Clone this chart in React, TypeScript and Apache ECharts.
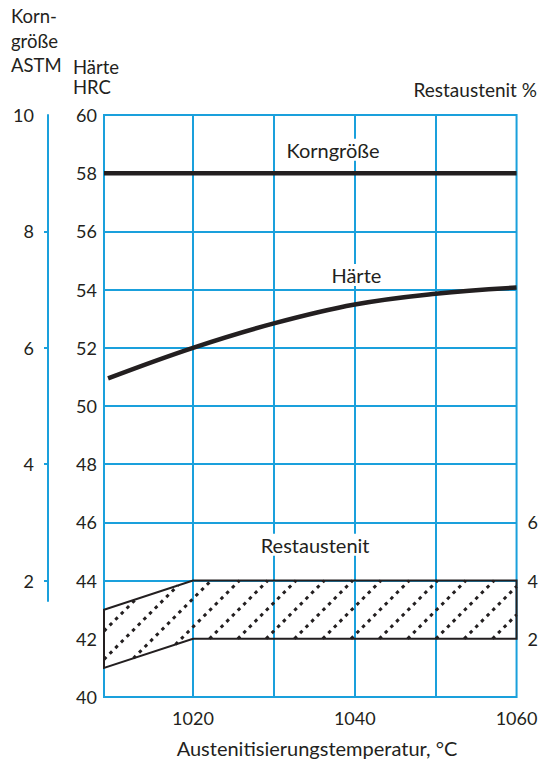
import { useEffect, useRef } from 'react';
import * as echarts from 'echarts';

const FONT = 'Lato, "Open Sans", sans-serif';
const INK = '#231f20';
const BLUE = '#1aa0dc';

// x axis: Austenitisierungstemperatur (°C)
const tempMin = 1009;
const tempMax = 1060;
const tempTickLabels = [1020, 1040, 1060];
const tempGridLines = [1020, 1030, 1040, 1050];

// left axis: Härte HRC
const hrcMin = 40;
const hrcMax = 60;
const hrcStep = 2;
const hrcGridLines = [44, 46, 48, 50, 52, 54, 56];

// far-left axis: Korngröße ASTM
const astmMin = 1.65;
const astmMax = 10;
const astmTicks = [2, 4, 6, 8];
const astmLabels = [2, 4, 6, 8, 10];

// right axis: Restaustenit %
const restPctMin = 0;
const restPctMax = 20;
const restPctLabels = [2, 4, 6];

// series
const korngroesseTemp = [1009, 1060];
const korngroesseHRC = [58, 58];
const haerteTemp = [1009.5, 1020, 1030, 1040, 1050, 1060];
const haerteHRC = [50.95, 52.0, 52.84, 53.49, 53.86, 54.07];
const restTopTemp = [1009, 1020, 1060];
const restTopHRC = [43, 44, 44];
const restBottomTemp = [1009, 1020, 1060];
const restBottomHRC = [41, 42, 42];

// in-chart annotations
const annotationText = ['Korngröße', 'Härte', 'Restaustenit'];
const annotationTemp = [1037.3, 1040.2, 1035.1];
const annotationHRC = [58.81, 54.5, 45.23];

const txt = { fontFamily: FONT, fontSize: 18, color: INK };

export default function App() {
  const ref = useRef<HTMLDivElement>(null);
  useEffect(() => {
    if (!ref.current) return;
    const chart = echarts.init(ref.current, null, { renderer: 'svg' });

    const hatchRender = (params: any, api: any) => {
      const top = restTopTemp.map((t, i) => api.coord([t, restTopHRC[i]]));
      const bot = restBottomTemp.map((t, i) => api.coord([t, restBottomHRC[i]]));
      const outline = top.concat(bot.slice().reverse());
      const xl = top[0][0];
      const xr = top[top.length - 1][0];
      const cross = (pts: number[][], C: number) => {
        for (let i = 0; i < pts.length - 1; i++) {
          const a = pts[i];
          const b = pts[i + 1];
          const fa = a[0] + a[1] - C;
          const fb = b[0] + b[1] - C;
          if ((fa <= 0 && fb >= 0) || (fa >= 0 && fb <= 0)) {
            const t = fa === fb ? 0 : fa / (fa - fb);
            return [a[0] + t * (b[0] - a[0]), a[1] + t * (b[1] - a[1])];
          }
        }
        return null;
      };
      const cMin = xl + top[0][1];
      const cMax = xr + bot[bot.length - 1][1];
      const step = 28.3;
      const anchor = bot[1][0] + bot[1][1] + 16.5;
      let c = anchor - Math.ceil((anchor - cMin) / step) * step;
      const lines: any[] = [];
      for (; c < cMax; c += step) {
        if (c <= cMin) continue;
        const p1 = c < xl + bot[0][1] ? [xl, c - xl] : cross(bot, c);
        const p2 = c > xr + top[top.length - 1][1] ? [xr, c - xr] : cross(top, c);
        if (!p1 || !p2) continue;
        lines.push({
          type: 'line',
          shape: { x1: p1[0], y1: p1[1], x2: p2[0], y2: p2[1] },
          style: { stroke: INK, lineWidth: 3, lineDash: [3.4, 4.6], fill: null },
        });
      }
      return {
        type: 'group',
        children: [
          ...lines,
          {
            type: 'polygon',
            shape: { points: outline },
            style: { fill: 'none', stroke: INK, lineWidth: 2 },
          },
        ],
      };
    };

    chart.setOption({
      animation: false,
      grid: [
        {
          left: 104,
          right: 22,
          top: 115,
          bottom: 66,
          show: true,
          borderColor: BLUE,
          borderWidth: 2,
          backgroundColor: 'transparent',
        },
        { left: 48, width: 1, top: 115, bottom: 162 },
      ],
      xAxis: [
        {
          type: 'value',
          gridIndex: 0,
          min: tempMin,
          max: tempMax,
          axisLine: { show: false },
          axisTick: { show: false },
          splitLine: { show: false },
          axisLabel: {
            ...txt,
            margin: 12,
            customValues: tempTickLabels,
            formatter: (v: number) => String(v),
          },
        },
        { type: 'value', gridIndex: 1, show: false, min: 0, max: 1 },
      ],
      yAxis: [
        {
          type: 'value',
          gridIndex: 0,
          position: 'left',
          min: hrcMin,
          max: hrcMax,
          interval: hrcStep,
          axisLine: { show: false },
          axisTick: { show: false },
          splitLine: { show: false },
          axisLabel: { ...txt, margin: 7 },
        },
        {
          type: 'value',
          gridIndex: 0,
          position: 'right',
          min: restPctMin,
          max: restPctMax,
          interval: 2,
          axisLine: { show: false },
          axisTick: { show: false },
          splitLine: { show: false },
          axisLabel: {
            ...txt,
            margin: 11,
            formatter: (v: number) => (restPctLabels.includes(v) ? String(v) : ''),
          },
        },
        {
          type: 'value',
          gridIndex: 1,
          position: 'left',
          min: astmMin,
          max: astmMax,
          axisLine: { show: true, lineStyle: { color: BLUE, width: 2 } },
          axisTick: {
            show: true,
            length: 4,
            customValues: astmTicks,
            lineStyle: { color: BLUE, width: 2 },
          },
          splitLine: { show: false },
          axisLabel: { ...txt, margin: 14, customValues: astmLabels },
        },
      ],
      series: [
        {
          name: 'grid',
          type: 'line',
          xAxisIndex: 0,
          yAxisIndex: 0,
          data: [],
          z: 1,
          silent: true,
          markLine: {
            silent: true,
            z: 1,
            symbol: ['none', 'none'],
            label: { show: false },
            emphasis: { disabled: true },
            lineStyle: { color: BLUE, width: 2, type: 'solid' },
            data: [
              ...tempGridLines.map((v) => ({ xAxis: v })),
              ...hrcGridLines.map((v) => ({ yAxis: v })),
            ],
          },
        },
        {
          name: 'Restaustenit',
          type: 'custom',
          xAxisIndex: 0,
          yAxisIndex: 0,
          z: 3,
          silent: true,
          data: [[restBottomTemp[0], restBottomHRC[0]]],
          renderItem: hatchRender,
        },
        {
          name: 'Korngröße',
          type: 'line',
          xAxisIndex: 0,
          yAxisIndex: 0,
          z: 4,
          showSymbol: false,
          silent: true,
          data: korngroesseTemp.map((t, i) => [t, korngroesseHRC[i]]),
          lineStyle: { color: INK, width: 4.5 },
        },
        {
          name: 'Härte',
          type: 'line',
          xAxisIndex: 0,
          yAxisIndex: 0,
          z: 4,
          smooth: 0.4,
          showSymbol: false,
          silent: true,
          data: haerteTemp.map((t, i) => [t, haerteHRC[i]]),
          lineStyle: { color: INK, width: 4.5, cap: 'butt' },
        },
        {
          name: 'labels',
          type: 'scatter',
          xAxisIndex: 0,
          yAxisIndex: 0,
          z: 6,
          symbolSize: 1,
          silent: true,
          itemStyle: { color: 'rgba(0,0,0,0)' },
          data: annotationTemp.map((t, i) => [t, annotationHRC[i]]),
          label: {
            show: true,
            position: 'inside',
            formatter: (p: any) => annotationText[p.dataIndex],
            fontFamily: FONT,
            fontSize: 20,
            color: INK,
            opacity: 1,
            textBorderWidth: 0,
            textBorderColor: 'transparent',
            backgroundColor: '#ffffff',
            padding: [1, 3],
          },
        },
      ],
      graphic: [
        { type: 'text', x: 11, y: 15.7, style: { text: 'Korn-', font: `18.5px ${FONT}`, fill: INK, verticalAlign: 'middle' } },
        { type: 'text', x: 11, y: 41, style: { text: 'größe', font: `18.5px ${FONT}`, fill: INK, verticalAlign: 'middle' } },
        { type: 'text', x: 11, y: 65, style: { text: 'ASTM', font: `18.5px ${FONT}`, fill: INK, verticalAlign: 'middle' } },
        { type: 'text', x: 73, y: 67, style: { text: 'Härte', font: `18.5px ${FONT}`, fill: INK, verticalAlign: 'middle' } },
        { type: 'text', x: 73, y: 87.3, style: { text: 'HRC', font: `18.5px ${FONT}`, fill: INK, verticalAlign: 'middle' } },
        { type: 'text', x: 537, y: 89, style: { text: 'Restaustenit %', font: `19px ${FONT}`, fill: INK, align: 'right', verticalAlign: 'middle' } },
        { type: 'text', x: 317, y: 748, style: { text: 'Austenitisierungstemperatur, °C', font: `20px ${FONT}`, fill: INK, align: 'center', verticalAlign: 'middle' } },
      ],
    });
    return () => chart.dispose();
  }, []);
  return (
    <div
      ref={ref}
      style={{ position: 'fixed', left: 0, top: 0, width: 541, height: 763, background: '#fff' }}
    />
  );
}
